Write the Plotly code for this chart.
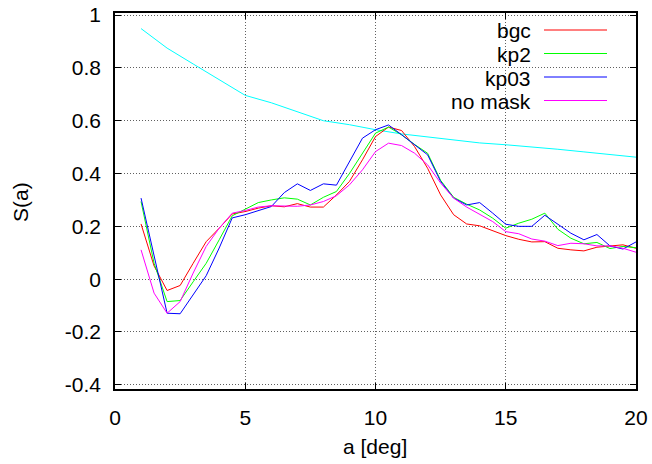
import plotly.graph_objects as go

# sampling angles (deg)
a_deg = [1.0, 1.5, 2.0, 2.5, 3.0, 3.5, 4.0, 4.5, 5.0, 5.5, 6.0, 6.5, 7.0, 7.5,
         8.0, 8.5, 9.0, 9.5, 10.0, 10.5, 11.0, 11.5, 12.0, 12.5, 13.0, 13.5,
         14.0, 14.5, 15.0, 15.5, 16.0, 16.5, 17.0, 17.5, 18.0, 18.5, 19.0,
         19.5, 20.0]

s_bgc = [0.209, 0.050, -0.043, -0.024, 0.060, 0.142, 0.193, 0.247, 0.256,
         0.269, 0.278, 0.274, 0.286, 0.273, 0.273, 0.319, 0.370, 0.452, 0.540,
         0.576, 0.563, 0.502, 0.420, 0.319, 0.244, 0.209, 0.202, 0.184, 0.165,
         0.151, 0.141, 0.142, 0.117, 0.111, 0.107, 0.121, 0.126, 0.130, 0.117]

s_kp2 = [0.294, 0.060, -0.085, -0.081, -0.010, 0.060, 0.149, 0.240, 0.265,
         0.290, 0.300, 0.308, 0.303, 0.281, 0.310, 0.332, 0.400, 0.477, 0.553,
         0.576, 0.547, 0.510, 0.477, 0.374, 0.310, 0.284, 0.262, 0.231, 0.193,
         0.212, 0.227, 0.250, 0.189, 0.155, 0.134, 0.139, 0.116, 0.124, 0.119]

s_kp03 = [0.307, 0.086, -0.129, -0.131, -0.060, 0.013, 0.118, 0.232, 0.244,
          0.260, 0.275, 0.328, 0.361, 0.336, 0.361, 0.356, 0.446, 0.534, 0.566,
          0.584, 0.547, 0.509, 0.471, 0.370, 0.307, 0.281, 0.290, 0.250, 0.208,
          0.200, 0.200, 0.242, 0.208, 0.174, 0.149, 0.169, 0.126, 0.114, 0.141]

s_nomask = [0.111, -0.053, -0.129, -0.085, 0.023, 0.124, 0.193, 0.250, 0.260,
            0.273, 0.278, 0.277, 0.276, 0.281, 0.294, 0.316, 0.357, 0.414, 0.483,
            0.515, 0.506, 0.477, 0.433, 0.364, 0.307, 0.273, 0.246, 0.218, 0.180,
            0.172, 0.152, 0.144, 0.127, 0.136, 0.134, 0.126, 0.126, 0.117, 0.102]

# reference curve, sampled every degree
a_ref = [1, 2, 3, 4, 5, 6, 7, 8, 9, 10, 11, 12, 13, 14, 15, 16, 17, 18, 19, 20]
s_ref = [0.949, 0.875, 0.815, 0.755, 0.696, 0.668, 0.635, 0.600, 0.585, 0.566,
         0.550, 0.538, 0.526, 0.516, 0.509, 0.501, 0.492, 0.482, 0.472, 0.462]

series_names = ["bgc", "kp2", "kp03", "no mask"]
series_colors = ["#ff0000", "#00ff00", "#0000ff", "#ff00ff"]
series_values = [s_bgc, s_kp2, s_kp03, s_nomask]

x_ticks = [0, 5, 10, 15, 20]
y_ticks = [-0.4, -0.2, 0, 0.2, 0.4, 0.6, 0.8, 1.0]
y_tick_text = ["-0.4", "-0.2", "0", "0.2", "0.4", "0.6", "0.8", "1"]

FONT = "Liberation Sans, Arial, sans-serif"
FS = 21
W, H = 652, 464
ML, MR, MT, MB = 115, 16, 13, 75
PW, PH = W - ML - MR, H - MT - MB


def px_x(px):
    return (px - ML) / PW


def px_y(py):
    return (H - MB - py) / PH


fig = go.Figure()

fig.add_trace(go.Scatter(x=a_ref, y=s_ref, mode="lines",
                         line=dict(color="#00ffff", width=1),
                         showlegend=False))

for name, color, vals in zip(series_names, series_colors, series_values):
    fig.add_trace(go.Scatter(x=a_deg, y=vals, mode="lines", name=name,
                             line=dict(color=color, width=1),
                             showlegend=False))

# key box in the upper right corner
shapes = [dict(type="rect", xref="paper", yref="paper",
               x0=px_x(432), x1=px_x(620), y0=px_y(113), y1=px_y(17),
               fillcolor="white", line=dict(width=0), layer="between")]
annotations = []
row_y = [30, 53.5, 77, 100.5]
for name, color, py in zip(series_names, series_colors, row_y):
    shapes.append(dict(type="line", xref="paper", yref="paper",
                       x0=px_x(544), x1=px_x(607), y0=px_y(py), y1=px_y(py),
                       line=dict(color=color, width=1), layer="above"))
    annotations.append(dict(text=name, xref="paper", yref="paper",
                            x=px_x(533), y=px_y(py + 1), xanchor="right",
                            yanchor="middle", showarrow=False,
                            font=dict(family=FONT, size=FS, color="black")))

annotations.append(dict(text="S(a)", xref="paper", yref="paper",
                        x=px_x(20), y=px_y(202), textangle=-90,
                        xanchor="center", yanchor="middle", showarrow=False,
                        font=dict(family=FONT, size=FS, color="black")))
annotations.append(dict(text="a [deg]", xref="paper", yref="paper",
                        x=px_x(375), y=px_y(446), xanchor="center",
                        yanchor="middle", showarrow=False,
                        font=dict(family=FONT, size=FS, color="black")))

axis_common = dict(showline=True, linecolor="black", linewidth=1.5,
                   mirror="ticks", ticks="inside", ticklen=6, tickwidth=1,
                   tickcolor="black", showgrid=True, gridcolor="#606060",
                   gridwidth=1, griddash="1px,2px", zeroline=False,
                   automargin=False,
                   tickfont=dict(family=FONT, size=FS, color="black"))

fig.update_layout(
    width=W, height=H,
    margin=dict(l=ML, r=MR, t=MT, b=MB, pad=0, autoexpand=False),
    paper_bgcolor="white", plot_bgcolor="white",
    showlegend=False,
    xaxis=dict(range=[0, 20], tickvals=x_ticks, ticktext=[str(v) for v in x_ticks],
               ticklabelstandoff=9, **axis_common),
    yaxis=dict(range=[-0.416, 1.008], tickvals=y_ticks, ticktext=y_tick_text,
               ticklabelstandoff=8, **axis_common),
    shapes=shapes,
    annotations=annotations,
)

fig.write_html("out.html", config={"displayModeBar": False})
